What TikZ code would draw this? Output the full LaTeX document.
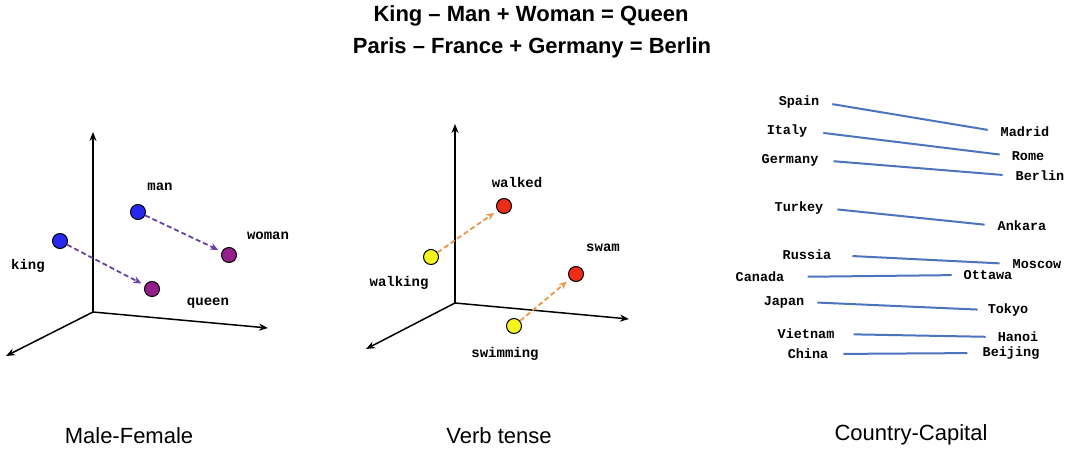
\documentclass[tikz,border=0pt]{standalone}
\usepackage{fontspec}
\setmainfont{Liberation Sans}
\newfontfamily\monofont{Liberation Mono}
\usetikzlibrary{arrows.meta}
\definecolor{dotblue}{RGB}{40,40,240}
\definecolor{dotpurple}{RGB}{150,30,140}
\definecolor{dotred}{RGB}{235,45,25}
\definecolor{dotyellow}{RGB}{245,245,30}
\definecolor{vecpurple}{RGB}{105,65,160}
\definecolor{vecorange}{RGB}{235,150,70}
\definecolor{linkblue}{RGB}{75,115,190}
\tikzset{
  dot/.style={circle, draw=black, line width=1pt, minimum size=15pt, inner sep=0pt},
  axis/.style={line width=1.5pt, -{Stealth[length=9pt,width=7pt]}},
  vec/.style={dashed, dash pattern=on 5pt off 3pt, line width=1.8pt, -{Stealth[length=8pt,width=7pt]}, shorten >=4pt},
  word/.style={font=\monofont\bfseries\fontsize{14}{16}\selectfont, inner sep=0pt},
  cword/.style={font=\monofont\bfseries\fontsize{13.5}{16}\selectfont, inner sep=0pt},
  link/.style={linkblue, line width=2pt},
  title/.style={font=\bfseries\fontsize{22}{26}\selectfont, anchor=base},
  caption/.style={font=\fontsize{22}{26}\selectfont, anchor=base},
}
\begin{document}
\begin{tikzpicture}[x=1pt,y=-1pt]
\useasboundingbox (0,0) rectangle (1073,452);
% titles
\node[title] (t1) at (531,22) {King – Man + Woman = Queen};
\node[title] (t2) at (532,54) {Paris – France + Germany = Berlin};
% captions
\node[caption] (c1) at (129,443) {Male-Female};
\node[caption] (c2) at (499,443) {Verb tense};
\node[caption] (c3) at (911,440) {Country-Capital};

% ---- Male-Female ----
\coordinate (o1) at (93,312);
\coordinate (y1) at (93,132);
\coordinate (x1) at (268,328);
\coordinate (z1) at (6,356);
\draw[axis] (o1) -- (y1);
\draw[axis] (o1) -- (x1);
\draw[axis] (o1) -- (z1);
\node[dot, fill=dotblue] (king) at (60,241) {};
\node[dot, fill=dotblue] (man) at (138,212) {};
\node[dot, fill=dotpurple] (woman) at (229,255) {};
\node[dot, fill=dotpurple] (queen) at (152,289) {};
\draw[vec, vecpurple] (king) -- (queen);
\draw[vec, vecpurple] (man) -- (woman);
\node[word] (lman) at (160,187) {man};
\node[word] (lwoman) at (268,236) {woman};
\node[word] (lking) at (28,266) {king};
\node[word] (lqueen) at (208,303) {queen};

% ---- Verb tense ----
\coordinate (o2) at (455,303);
\coordinate (y2) at (455,124);
\coordinate (x2) at (629,319);
\coordinate (z2) at (366,349);
\draw[axis] (o2) -- (y2);
\draw[axis] (o2) -- (x2);
\draw[axis] (o2) -- (z2);
\node[dot, fill=dotyellow] (walking) at (431,257) {};
\node[dot, fill=dotred] (walked) at (504,206) {};
\node[dot, fill=dotyellow] (swimming) at (514,326) {};
\node[dot, fill=dotred] (swam) at (576,274) {};
\draw[vec, vecorange] (walking) -- (walked);
\draw[vec, vecorange] (swimming) -- (swam);
\node[word] (lwalked) at (517,182) {walked};
\node[word] (lswam) at (603,248) {swam};
\node[word] (lwalking) at (399,283) {walking};
\node[word] (lswimming) at (505,354) {swimming};

% ---- Country-Capital ----
\node[cword] (spain) at (799,102) {Spain};
\node[cword] (madrid) at (1025,132) {Madrid};
\node[cword] (italy) at (787,131) {Italy};
\node[cword] (rome) at (1028,156) {Rome};
\node[cword] (germany) at (790,160) {Germany};
\node[cword] (berlin) at (1040,176) {Berlin};
\node[cword] (turkey) at (799,208) {Turkey};
\node[cword] (ankara) at (1022,226) {Ankara};
\node[cword] (russia) at (807,255) {Russia};
\node[cword] (moscow) at (1037,264) {Moscow};
\node[cword] (canada) at (760,277) {Canada};
\node[cword] (ottawa) at (988,275) {Ottawa};
\node[cword] (japan) at (784,302) {Japan};
\node[cword] (tokyo) at (1008,310) {Tokyo};
\node[cword] (vietnam) at (806,334) {Vietnam};
\node[cword] (hanoi) at (1018,337) {Hanoi};
\node[cword] (china) at (808,354) {China};
\node[cword] (beijing) at (1011,353) {Beijing};
\draw[link, shorten <=13pt, shorten >=13pt] (spain.east) -- (madrid.west);
\draw[link, shorten <=16pt, shorten >=12pt] (italy.east) -- (rome.west);
\draw[link, shorten <=15pt, shorten >=13pt] (germany.east) -- (berlin.west);
\draw[link, shorten <=14pt, shorten >=13pt] (turkey.east) -- (ankara.west);
\draw[link, shorten <=21pt, shorten >=13pt] (russia.east) -- (moscow.west);
\draw[link, shorten <=23pt, shorten >=12pt] (canada.east) -- (ottawa.west);
\draw[link, shorten <=13pt, shorten >=10pt] (japan.east) -- (tokyo.west);
\draw[link, shorten <=19pt, shorten >=12pt] (vietnam.east) -- (hanoi.west);
\draw[link, shorten <=15pt, shorten >=15pt] (china.east) -- (beijing.west);
\end{tikzpicture}
\end{document}
